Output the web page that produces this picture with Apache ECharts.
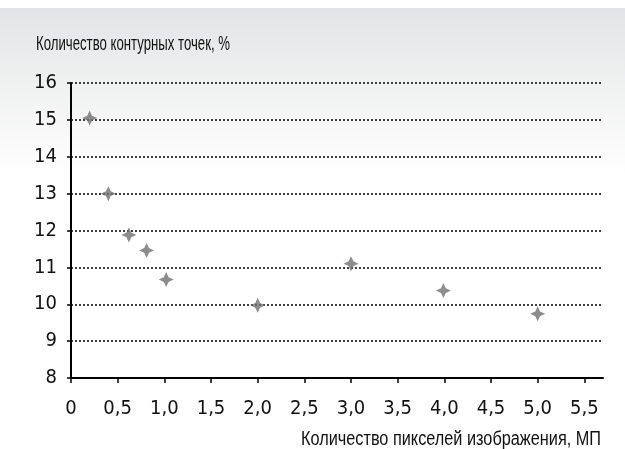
<!DOCTYPE html>
<html>
<head>
<meta charset="utf-8">
<script src="https://cdn.jsdelivr.net/npm/echarts@6/dist/echarts.min.js"></script>
<style>
  html, body { margin: 0; padding: 0; background: #fff; }
  #chart { width: 625px; height: 449px; }
</style>
</head>
<body>
<div id="chart"></div>
<script>
var pixels = [0.2, 0.4, 0.62, 0.81, 1.02, 2.0, 3.0, 3.99, 5.0];
var contourPct = [15.05, 13.0, 11.88, 11.46, 10.67, 9.97, 11.1, 10.37, 9.74];
var xTicks = [0, 0.5, 1.0, 1.5, 2.0, 2.5, 3.0, 3.5, 4.0, 4.5, 5.0, 5.5];
var yTitle = 'Количество контурных точек, %';
var xTitle = 'Количество пикселей изображения, МП';

var font = '"DejaVu Sans Condensed", "Liberation Sans", sans-serif';
var titleFont = '20px "Liberation Sans", Arial, sans-serif';
var chart = echarts.init(document.getElementById('chart'));

// squeeze a normal-width font down to the narrow look of the original
function narrow(text, width) {
  var ctx = document.createElement('canvas').getContext('2d');
  ctx.font = titleFont;
  return width / ctx.measureText(text).width;
}

var points = pixels.map(function (x, i) { return [x, contourPct[i]]; });
var star = 'path://M0,-10 L3.2,-3.2 L10,0 L3.2,3.2 L0,10 L-3.2,3.2 L-10,0 L-3.2,-3.2Z';

var option = {
  animation: false,
  backgroundColor: '#fff',
  graphic: [{
    type: 'rect',
    z: -10,
    silent: true,
    shape: { x: 0, y: 8, width: 625, height: 441 },
    style: {
      fill: new echarts.graphic.LinearGradient(0, 0, 0, 1, [
        { offset: 0, color: '#e3e4e5' },
        { offset: 0.38, color: '#ffffff' },
        { offset: 1, color: '#ffffff' }
      ])
    }
  }, {
    type: 'text',
    x: 36,
    y: 44,
    scaleX: narrow(yTitle, 194),
    style: { text: yTitle, font: titleFont, fill: '#111', verticalAlign: 'middle', align: 'left' }
  }, {
    type: 'text',
    x: 601,
    y: 439,
    scaleX: narrow(xTitle, 300),
    style: { text: xTitle, font: titleFont, fill: '#111', verticalAlign: 'middle', align: 'right' }
  }],
  grid: { left: 71, right: 22, top: 83, bottom: 71 },
  xAxis: {
    type: 'value',
    min: 0,
    max: 5.7,
    interval: 0.5,
    axisLine: { lineStyle: { color: '#000', width: 2 } },
    axisTick: { show: true, length: 5, lineStyle: { color: '#000', width: 1.5 }, customValues: xTicks },
    axisLabel: {
      customValues: xTicks,
      margin: 21,
      fontFamily: font, fontSize: 20, color: '#111',
      formatter: function (v) { return v === 0 ? '0' : v.toFixed(1).replace('.', ','); }
    },
    splitLine: { show: false }
  },
  yAxis: {
    type: 'value',
    min: 8,
    max: 16,
    interval: 1,
    axisLine: { show: true, lineStyle: { color: '#000', width: 2 } },
    axisTick: { show: true, length: 4, lineStyle: { color: '#000', width: 1.5 } },
    axisLabel: { margin: 14, fontFamily: font, fontSize: 20, color: '#111' },
    splitLine: { show: true, lineStyle: { color: '#000', type: [2, 2], width: 1.5 } }
  },
  series: [{
    type: 'scatter',
    data: points,
    symbol: star,
    symbolSize: 15,
    itemStyle: { color: '#717171' }
  }]
};

chart.setOption(option);
</script>
</body>
</html>
